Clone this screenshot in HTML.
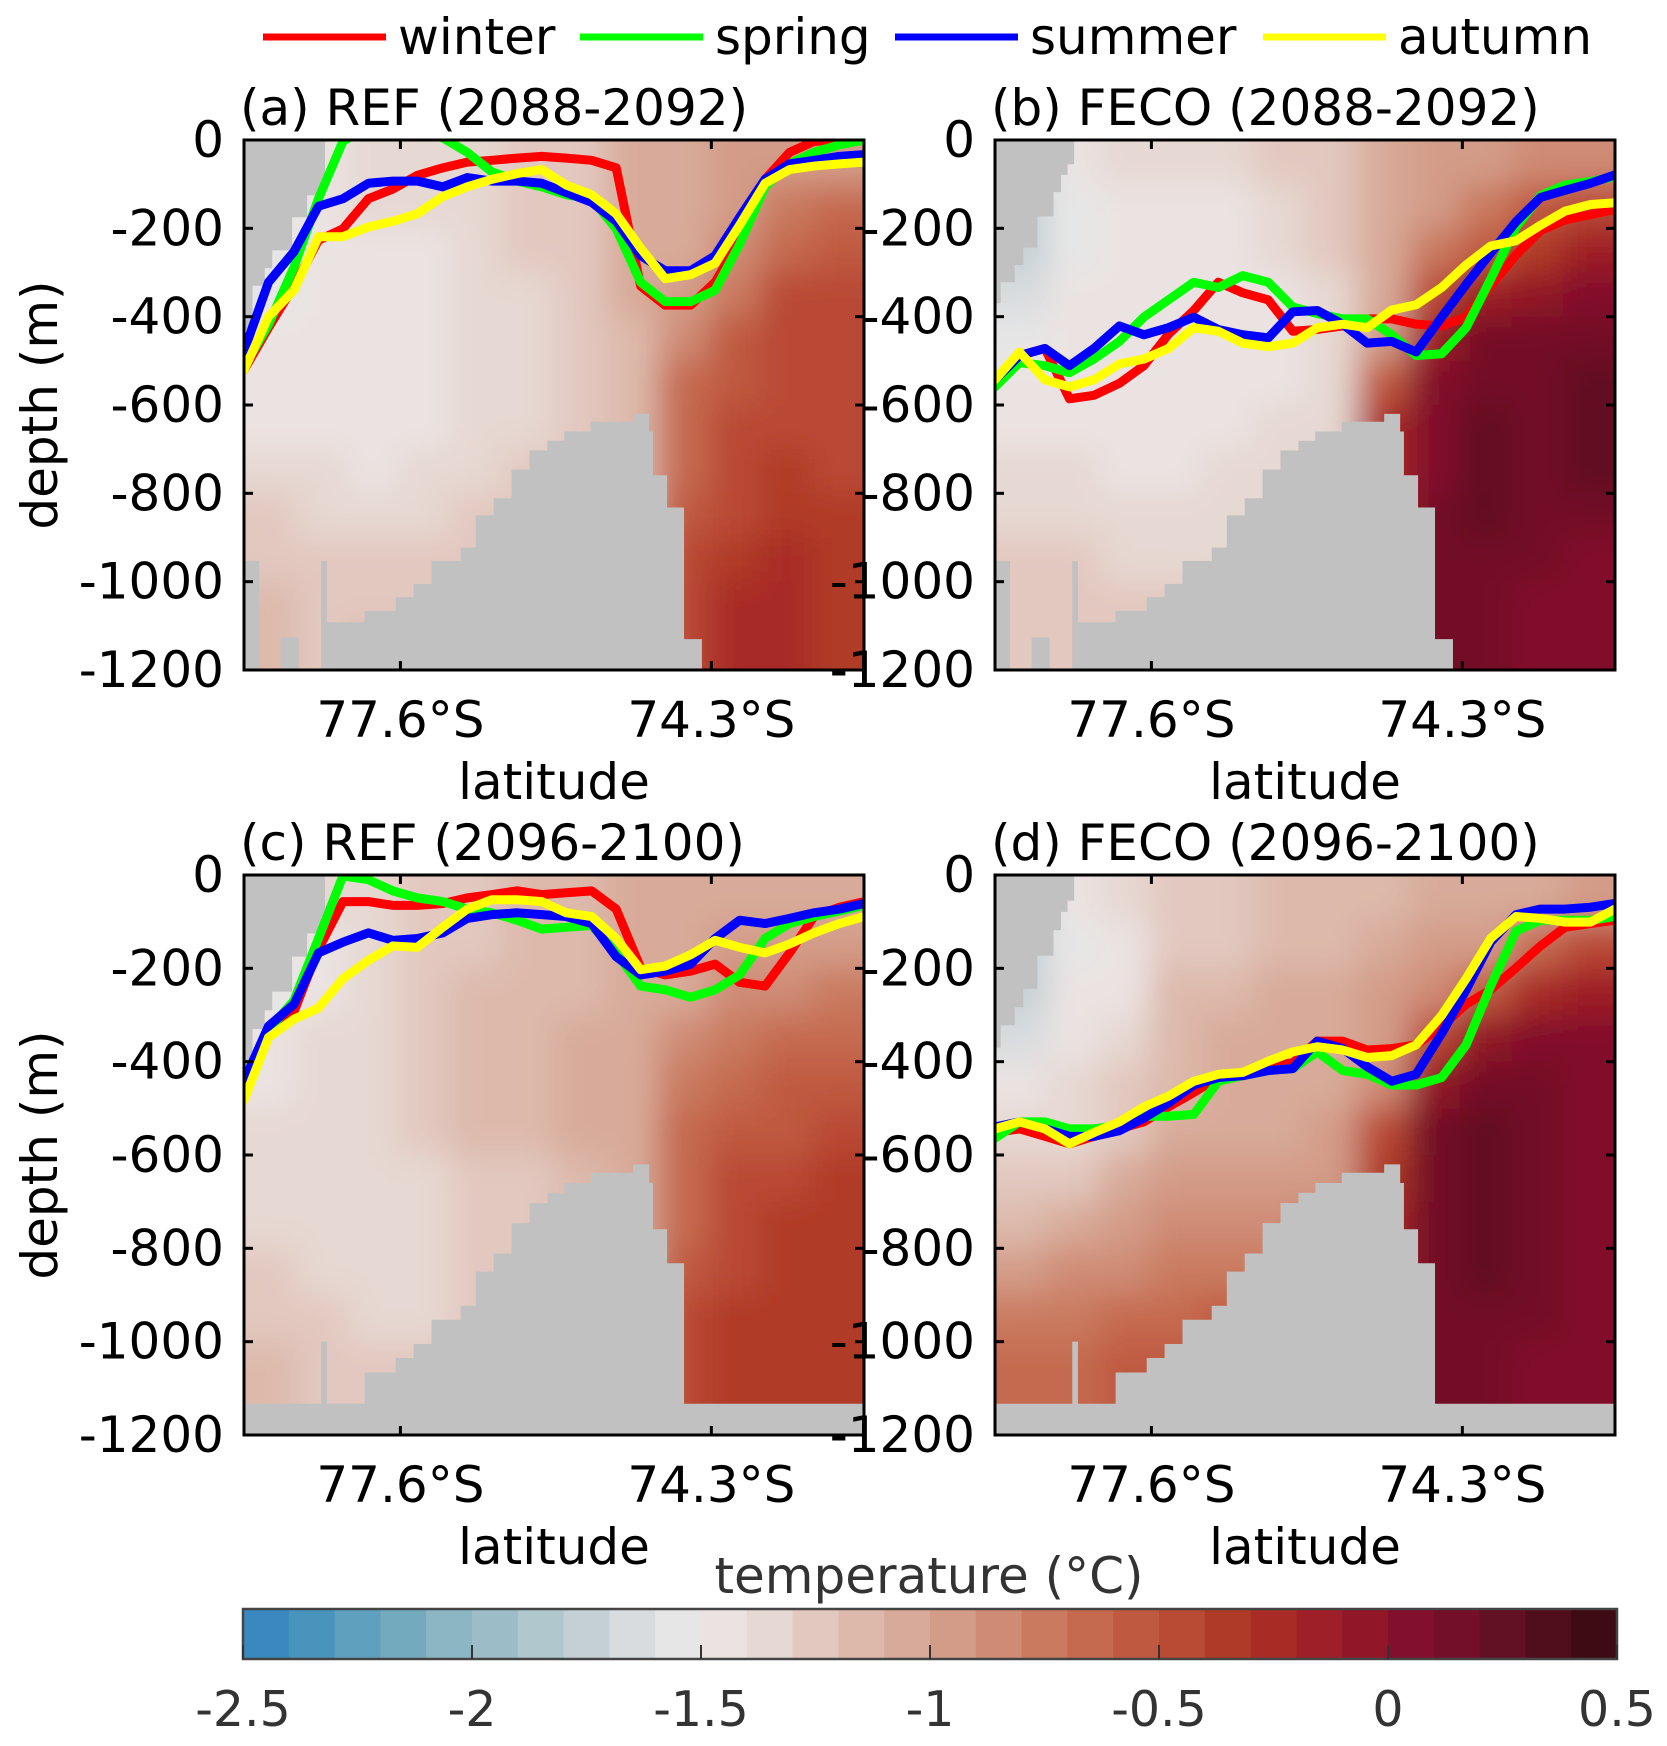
<!DOCTYPE html>
<html><head><meta charset="utf-8"><style>
html,body{margin:0;padding:0;background:#fff}
svg{display:block}
text{font-family:"DejaVu Sans","Liberation Sans",sans-serif}
</style></head><body>
<svg id="chart" xmlns="http://www.w3.org/2000/svg" width="1667" height="1746" viewBox="0 0 1667 1746">
<defs>
<filter id="soft" x="-0.1" y="-0.1" width="1.2" height="1.2" filterUnits="objectBoundingBox"><feGaussianBlur stdDeviation="16"/></filter>
</defs>
<g id="root"></g>
</svg>
<script>
// ---- data ----
const cmapColors = ["#3a88bf","#4894bd","#5ea0bd","#74aabe","#8bb6c4","#9cbcc7","#b0c7cd","#c4d0d5","#d8dcdf","#e6e6e6","#ebe3e2","#e6d8d2","#e2c8bf","#ddb9ab","#d8aa99","#d39c88","#cf8b74","#c97a5f","#c56a4f","#bf5a40","#b94a34","#b03a28","#a82b26","#9e1f27","#911728","#820f2b","#730f28","#621023","#500e1c","#3e0a14"];
const cbarTicks = [-2.5,-2,-1.5,-1,-0.5,0,0.5];
const cbarTickLabels = ["-2.5","-2","-1.5","-1","-0.5","0","0.5"];
const depthTicks = [0,-200,-400,-600,-800,-1000,-1200];
const latTicks = [77.6,74.3];
const latTickLabels = ["77.6°S","74.3°S"];
const fieldLatEdges = [79.26,78.71,78.16,77.62,77.07,76.52,75.97,75.42,74.87,74.33,73.78,73.23,72.68];
const fieldDepthEdges = [0,100,200,300,400,500,600,700,800,900,1000,1100,1200];
const lineLats = [79.26,79.00,78.73,78.47,78.21,77.94,77.68,77.42,77.15,76.89,76.63,76.36,76.10,75.84,75.57,75.31,75.05,74.79,74.52,74.26,74.00,73.73,73.47,73.21,72.94,72.68];

const fieldA = [
[-1.55,-1.45,-1.35,-1.35,-1.35,-1.25,-1.25,-1.1,-1.05,-1.0,-1.0,-0.95],
[-1.6,-1.5,-1.35,-1.35,-1.35,-1.25,-1.25,-1.1,-1.05,-1.0,-0.8,-0.7],
[-1.6,-1.5,-1.45,-1.45,-1.4,-1.25,-1.25,-1.1,-1.05,-0.85,-0.65,-0.55],
[-1.55,-1.5,-1.45,-1.45,-1.4,-1.35,-1.3,-1.1,-1.0,-0.75,-0.5,-0.45],
[-1.5,-1.45,-1.45,-1.45,-1.4,-1.35,-1.3,-1.2,-0.9,-0.6,-0.45,-0.45],
[-1.45,-1.45,-1.45,-1.45,-1.4,-1.35,-1.3,-1.2,-0.7,-0.6,-0.45,-0.45],
[-1.45,-1.45,-1.45,-1.45,-1.35,-1.35,-1.3,-1.2,-0.7,-0.5,-0.45,-0.45],
[-1.35,-1.4,-1.45,-1.4,-1.35,-1.3,-1.3,-1.2,-0.7,-0.45,-0.4,-0.45],
[-1.3,-1.35,-1.35,-1.35,-1.3,-1.3,-1.3,-1.2,-0.6,-0.45,-0.4,-0.4],
[-1.25,-1.3,-1.3,-1.3,-1.3,-1.3,-1.3,-1.2,-0.5,-0.35,-0.3,-0.35],
[-1.2,-1.25,-1.25,-1.25,-1.3,-1.3,-1.3,-1.2,-0.5,-0.3,-0.3,-0.35],
[-1.2,-1.25,-1.2,-1.25,-1.3,-1.3,-1.3,-1.2,-0.5,-0.3,-0.3,-0.35]];
const fieldB = [
[-1.7,-1.5,-1.35,-1.4,-1.4,-1.3,-1.25,-1.1,-1.0,-1.0,-0.9,-0.9],
[-1.8,-1.55,-1.45,-1.45,-1.45,-1.35,-1.25,-1.1,-0.95,-0.8,-0.6,-0.5],
[-1.8,-1.55,-1.45,-1.45,-1.45,-1.4,-1.25,-1.1,-0.8,-0.55,-0.35,-0.2],
[-1.7,-1.5,-1.45,-1.45,-1.45,-1.45,-1.4,-1.1,-0.5,-0.2,-0.05,0.0],
[-1.6,-1.5,-1.45,-1.45,-1.45,-1.45,-1.4,-1.0,-0.2,0.1,0.1,0.15],
[-1.5,-1.45,-1.45,-1.45,-1.45,-1.45,-1.4,-0.6,0.05,0.1,0.15,0.2],
[-1.45,-1.45,-1.45,-1.45,-1.45,-1.4,-1.4,-0.3,0.05,0.2,0.15,0.2],
[-1.4,-1.4,-1.45,-1.45,-1.4,-1.4,-1.4,-0.3,0.05,0.2,0.15,0.2],
[-1.35,-1.35,-1.4,-1.4,-1.4,-1.4,-1.4,-0.3,0.1,0.2,0.1,0.15],
[-1.3,-1.3,-1.35,-1.35,-1.35,-1.4,-1.4,-0.3,0.1,0.15,0.1,0.05],
[-1.25,-1.3,-1.3,-1.3,-1.35,-1.4,-1.4,-0.3,0.1,0.1,0.05,0.0],
[-1.25,-1.3,-1.3,-1.3,-1.35,-1.4,-1.4,-0.3,0.1,0.1,0.05,0.0]];
const fieldC = [
[-1.5,-1.4,-1.35,-1.3,-1.25,-1.2,-1.2,-1.1,-1.05,-1.1,-1.1,-1.1],
[-1.6,-1.45,-1.35,-1.3,-1.25,-1.2,-1.2,-1.1,-1.05,-1.0,-1.0,-0.95],
[-1.6,-1.45,-1.35,-1.25,-1.15,-1.15,-1.15,-1.1,-1.05,-0.85,-0.85,-0.75],
[-1.5,-1.4,-1.35,-1.25,-1.15,-1.15,-1.1,-1.05,-0.85,-0.75,-0.7,-0.65],
[-1.45,-1.4,-1.35,-1.25,-1.15,-1.15,-1.1,-1.05,-0.75,-0.7,-0.6,-0.55],
[-1.4,-1.4,-1.35,-1.3,-1.2,-1.15,-1.1,-1.05,-0.7,-0.6,-0.55,-0.45],
[-1.4,-1.35,-1.35,-1.35,-1.25,-1.25,-1.15,-1.05,-0.7,-0.5,-0.5,-0.35],
[-1.35,-1.35,-1.35,-1.35,-1.3,-1.25,-1.2,-1.1,-0.65,-0.5,-0.4,-0.35],
[-1.3,-1.35,-1.35,-1.35,-1.3,-1.3,-1.2,-1.1,-0.55,-0.45,-0.4,-0.35],
[-1.25,-1.3,-1.35,-1.35,-1.3,-1.3,-1.2,-1.1,-0.5,-0.4,-0.4,-0.35],
[-1.2,-1.25,-1.3,-1.3,-1.3,-1.3,-1.2,-1.1,-0.5,-0.4,-0.35,-0.35],
[-1.2,-1.25,-1.3,-1.3,-1.3,-1.3,-1.2,-1.1,-0.5,-0.4,-0.35,-0.35]];
const fieldD = [
[-1.7,-1.5,-1.4,-1.3,-1.25,-1.2,-1.2,-1.15,-1.1,-1.05,-1.05,-1.0],
[-1.8,-1.55,-1.45,-1.3,-1.25,-1.2,-1.15,-1.05,-1.0,-1.0,-0.65,-0.5],
[-1.75,-1.5,-1.45,-1.2,-1.15,-1.1,-1.05,-1.0,-0.85,-0.6,-0.3,-0.2],
[-1.65,-1.45,-1.35,-1.15,-1.1,-1.05,-1.05,-1.0,-0.5,-0.1,0.05,0.0],
[-1.5,-1.4,-1.3,-1.15,-1.1,-1.05,-1.05,-0.85,-0.1,0.15,0.15,0.05],
[-1.4,-1.35,-1.25,-1.1,-1.05,-1.05,-1.0,-0.5,0.1,0.2,0.15,0.05],
[-1.3,-1.25,-1.1,-1.0,-1.0,-1.0,-0.95,-0.4,0.15,0.2,0.15,0.05],
[-1.15,-1.1,-1.0,-0.9,-0.9,-0.85,-0.8,-0.3,0.15,0.2,0.15,0.05],
[-0.95,-0.9,-0.85,-0.8,-0.75,-0.75,-0.7,-0.3,0.15,0.2,0.1,0.0],
[-0.8,-0.75,-0.7,-0.65,-0.6,-0.6,-0.6,-0.3,0.15,0.15,0.1,0.0],
[-0.7,-0.65,-0.6,-0.55,-0.55,-0.55,-0.55,-0.3,0.15,0.15,0.05,0.0],
[-0.7,-0.65,-0.6,-0.55,-0.55,-0.55,-0.55,-0.3,0.15,0.1,0.05,0.0]];

const bathyLatEdges = [79.26,79.10,78.87,78.68,78.44,78.38,77.98,77.65,77.46,77.27,76.96,76.80,76.61,76.42,76.23,76.04,75.86,75.58,75.13,74.96,74.92,74.77,74.59,74.40,72.68];
const bathyDepthAB = [953,1200,1126,1200,953,1092,1066,1035,1005,953,923,850,811,746,703,681,660,638,620,660,759,832,1130,1200];
const bathyDepthCD = [1133,1133,1133,1133,1000,1133,1066,1035,1005,953,923,850,811,746,703,681,660,638,620,660,759,832,1133,1133];
const iceLatA = [79.26,79.17,79.04,78.96,78.75,78.59,78.44,78.40];
const iceDraftA = [430,330,290,250,175,125,90];
const iceLatB = [79.26,79.20,79.05,78.96,78.81,78.64,78.56,78.49,78.42];
const iceDraftB = [370,322,283,244,173,118,79,55];

const winterA = [521,425,331,227,201,133,111,80,63,50,46,41,37,41,46,63,331,374,374,322,227,89,28,3,0,0];
const springA = [513,418,288,133,3,-30,-30,-20,-5,28,72,93,106,124,133,201,322,366,366,340,236,106,54,28,11,0];
const summerA = [478,322,253,150,133,98,93,93,106,85,93,93,98,119,141,184,262,296,296,262,175,89,54,46,37,33];
const autumnA = [521,400,340,219,219,197,184,167,128,106,89,76,67,102,124,167,245,314,305,279,193,98,67,59,54,50];

const winterB = [545,488,472,586,578,551,511,440,386,322,346,362,433,429,421,405,405,417,421,401,330,260,205,181,169,157];
const springB = [559,504,511,527,496,456,401,362,322,334,307,322,378,393,405,405,441,488,484,425,315,197,126,102,94,83];
const summerB = [543,488,472,511,472,421,441,425,401,429,441,448,389,386,417,460,456,480,401,327,256,185,130,114,98,79];
const autumnB = [543,480,543,559,543,507,496,472,425,433,460,468,460,425,417,425,385,373,334,283,240,228,193,161,146,142];

const winterC = [466,348,293,159,57,57,65,65,61,49,42,34,42,38,34,73,199,214,206,191,230,238,167,89,69,57];
const springC = [450,332,269,136,2,10,34,49,57,73,81,97,116,112,108,167,238,246,262,246,214,136,104,89,77,65];
const summerC = [442,324,277,167,144,124,140,136,124,93,85,81,85,89,104,175,214,206,191,136,97,104,93,81,73,61];
const autumnC = [482,348,309,285,222,183,152,155,112,73,53,53,57,81,89,136,203,195,171,140,155,167,148,124,104,89];

const winterD = [552,544,560,576,560,544,529,497,466,434,430,407,403,356,356,375,372,364,325,277,246,199,152,112,104,97];
const springD = [564,529,529,544,544,537,517,517,513,442,430,419,415,379,419,427,450,450,434,364,238,120,97,97,97,89];
const summerD = [540,529,544,560,560,548,521,489,450,434,430,419,415,356,372,411,442,427,340,246,144,85,73,73,69,61];
const autumnD = [544,529,544,576,552,529,497,474,442,427,423,399,379,368,375,391,387,364,301,222,136,89,93,101,101,73];

// ---- rendering ----
const NS = "http://www.w3.org/2000/svg";
const root = document.getElementById("root");
function mk(tag, attrs, parent){ const e=document.createElementNS(NS,tag); for(const k in attrs) e.setAttribute(k,attrs[k]); (parent||root).appendChild(e); return e; }
function colorFor(t){ let i=Math.floor((t+2.5)/0.1+1e-6); i=Math.max(0,Math.min(29,i)); return cmapColors[i]; }
const seasonColors = {winter:"#ff0000",spring:"#00ff00",summer:"#0000ff",autumn:"#ffff00"};
const FS = 50;

const panels = [
 {id:"a", title:"(a) REF (2088-2092)", x0:244,x1:864,y0:140,y1:670, field:fieldA, bathy:bathyDepthAB, iceLat:iceLatA, ice:iceDraftA, lines:{winter:winterA,spring:springA,summer:summerA,autumn:autumnA}},
 {id:"b", title:"(b) FECO (2088-2092)", x0:995,x1:1615,y0:140,y1:670, field:fieldB, bathy:bathyDepthAB, iceLat:iceLatB, ice:iceDraftB, lines:{winter:winterB,spring:springB,summer:summerB,autumn:autumnB}},
 {id:"c", title:"(c) REF (2096-2100)", x0:244,x1:864,y0:875,y1:1435, field:fieldC, bathy:bathyDepthCD, iceLat:iceLatA, ice:iceDraftA, lines:{winter:winterC,spring:springC,summer:summerC,autumn:autumnC}},
 {id:"d", title:"(d) FECO (2096-2100)", x0:995,x1:1615,y0:875,y1:1435, field:fieldD, bathy:bathyDepthCD, iceLat:iceLatB, ice:iceDraftB, lines:{winter:winterD,spring:springD,summer:summerD,autumn:autumnD}}
];
const LAT0=79.26, LAT1=72.68;
const PAD=60;

panels.forEach(p=>{
  const sx = lat => p.x0 + (LAT0-lat)/(LAT0-LAT1)*(p.x1-p.x0);
  const sy = d => p.y0 + d/1200*(p.y1-p.y0);
  const g = mk("g",{});
  
  
  const defs = mk("defs",{},g);
  const cp = mk("clipPath",{id:"clip"+p.id},defs);
  mk("rect",{x:p.x0,y:p.y0,width:p.x1-p.x0,height:p.y1-p.y0},cp);
  const plot = mk("g",{"clip-path":"url(#clip"+p.id+")"},g);
  const fg = mk("g",{filter:"url(#soft)"},plot);
  
  
  const nr=p.field.length, nc=p.field[0].length;
  p.field.forEach((row,r)=>{
    row.forEach((t,c)=>{
      let x=sx(fieldLatEdges[c]), x2=sx(fieldLatEdges[c+1]);
      let y=sy(fieldDepthEdges[r]), y2=sy(fieldDepthEdges[r+1]);
      if(c===0) x-=PAD; if(c===nc-1) x2+=PAD;
      if(r===0) y-=PAD; if(r===nr-1) y2+=PAD;
      const cell = mk("rect",{x:x,y:y,width:x2-x+0.5,height:y2-y+0.5,fill:colorFor(t)},fg);
      
      
    });
  });
  let d = "M"+sx(bathyLatEdges[0])+","+p.y1;
  p.bathy.forEach((dep,i)=>{ d+=" L"+sx(bathyLatEdges[i])+","+sy(dep)+" L"+sx(bathyLatEdges[i+1])+","+sy(dep); });
  d+=" L"+sx(bathyLatEdges[bathyLatEdges.length-1])+","+(p.y1+5)+" L"+sx(bathyLatEdges[0])+","+(p.y1+5)+"Z";
  const bp = mk("path",{d:d,fill:"#c1c1c1"},plot);
  
  
  let di = "M"+sx(p.iceLat[0])+","+p.y0;
  p.ice.forEach((dr,i)=>{ di+=" L"+sx(p.iceLat[i])+","+sy(dr)+" L"+sx(p.iceLat[i+1])+","+sy(dr); });
  di+=" L"+sx(p.iceLat[p.iceLat.length-1])+","+p.y0+"Z";
  const ip = mk("path",{d:di,fill:"#c1c1c1"},plot);
  
  
  ["winter","spring","summer","autumn"].forEach(s=>{
    const pts = p.lines[s].map((v,i)=>sx(lineLats[i])+","+sy(v)).join(" ");
    const pl = mk("polyline",{points:pts,fill:"none",stroke:seasonColors[s],"stroke-width":9,"stroke-linejoin":"round","stroke-linecap":"round"},plot);
    
    
  });
  const box = mk("rect",{x:p.x0,y:p.y0,width:p.x1-p.x0,height:p.y1-p.y0,fill:"none",stroke:"#000","stroke-width":3},g);
  
  
  depthTicks.forEach(v=>{
    const y=sy(-v);
    mk("line",{x1:p.x0,x2:p.x0+9,y1:y,y2:y,stroke:"#000","stroke-width":3},g);
    mk("line",{x1:p.x1,x2:p.x1-9,y1:y,y2:y,stroke:"#000","stroke-width":3},g);
    const t = mk("text",{x:p.x0-20,y:y+17,"font-size":FS,"text-anchor":"end",fill:"#000"},g);
    t.textContent = String(v);
    
    
  });
  latTicks.forEach((v,i)=>{
    const x=sx(v);
    mk("line",{x1:x,x2:x,y1:p.y0,y2:p.y0+9,stroke:"#000","stroke-width":3},g);
    mk("line",{x1:x,x2:x,y1:p.y1,y2:p.y1-9,stroke:"#000","stroke-width":3},g);
    const t = mk("text",{x:x,y:p.y1+67,"font-size":FS,"text-anchor":"middle",fill:"#000"},g);
    t.textContent = latTickLabels[i];
    
    
  });
  const xl = mk("text",{x:(p.x0+p.x1)/2,y:p.y1+129,"font-size":FS,"text-anchor":"middle",fill:"#000"},g);
  xl.textContent="latitude";
  
  
  const tt = mk("text",{x:p.x0-4,y:p.y0-15,"font-size":FS,fill:"#000"},g);
  tt.textContent=p.title;
  
  
  if(p.id==="a"||p.id==="c"){
    const cy=(p.y0+p.y1)/2;
    const yl = mk("text",{x:0,y:0,"font-size":FS,"text-anchor":"middle",fill:"#000",transform:"translate(57,"+cy+") rotate(-90)"},g);
    yl.textContent="depth (m)";
    
    
  }
});

const legendItems=[["winter",263],["spring",580],["summer",895],["autumn",1263]];
const lg = mk("g",{});


legendItems.forEach(([s,x])=>{
  const l = mk("line",{x1:x,x2:x+123,y1:37,y2:37,stroke:seasonColors[s],"stroke-width":7},lg);
  
  
  const t = mk("text",{x:x+135,y:54,"font-size":FS,fill:"#000"},lg);
  t.textContent=s;
  
  
});

const CB={x0:243,x1:1617,y0:1609,y1:1659};
const cbx = v => CB.x0 + (v+2.5)/3*(CB.x1-CB.x0);
const cg = mk("g",{});


cmapColors.forEach((c,i)=>{
  const v=-2.5+i*0.1;
  const r = mk("rect",{x:cbx(v),y:CB.y0,width:cbx(v+0.1)-cbx(v)+0.5,height:CB.y1-CB.y0,fill:c},cg);
  
  
});
mk("rect",{x:CB.x0,y:CB.y0,width:CB.x1-CB.x0,height:CB.y1-CB.y0,fill:"none",stroke:"#444","stroke-width":2.5},cg);
cbarTicks.forEach((v,i)=>{
  const x=cbx(v);
  mk("line",{x1:x,x2:x,y1:CB.y1,y2:CB.y1-14,stroke:"#333","stroke-width":2},cg);
  const t = mk("text",{x:x,y:1726,"font-size":49,"text-anchor":"middle",fill:"#333"},cg);
  t.textContent=cbarTickLabels[i];
  
  
});
const ct = mk("text",{x:929,y:1593,"font-size":FS,"text-anchor":"middle",fill:"#333"},cg);
ct.textContent="temperature (°C)";


</script>
</body></html>
